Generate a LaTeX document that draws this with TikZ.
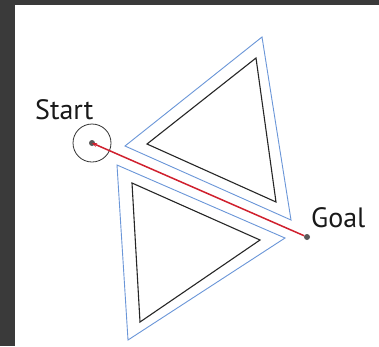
\documentclass[tikz,border=0pt]{standalone}
\usepackage{fontspec}
\setmainfont{PT Sans}
\usetikzlibrary{arrows.meta}
\definecolor{bgdark}{HTML}{3A3A3A}
\definecolor{obsblue}{HTML}{6A96D8}
\definecolor{pathred}{HTML}{D0202E}
\tikzset{
  outline/.style={draw=obsblue, line width=0.9pt, line join=miter},
  inner/.style={draw=black!85, line width=1.1pt, line join=miter},
  lbl/.style={font=\fontsize{28}{28}\selectfont, inner sep=0pt, anchor=base west, text=black!90},
  pt/.style={circle, fill=gray!70!black, inner sep=0pt, minimum size=6pt},
  ring/.style={circle, draw=black!80, line width=0.8pt, minimum size=38pt, inner sep=0pt},
  route/.style={draw=pathred, line width=1.5pt, -{Stealth[length=5pt,width=4pt]}}
}
\begin{document}
\begin{tikzpicture}[x=1pt,y=-1pt]
\useasboundingbox (0,0) rectangle (379,346);
\fill[bgdark] (0,0) rectangle (379,346);
\fill[white] (15,5) rectangle (379,346);
% upper obstacle
\draw[outline] (262,37) -- (125,146) -- (291,220) -- cycle;
\draw[inner] (256,58) -- (147,144) -- (276,202) -- cycle;
% lower obstacle
\draw[outline] (117,165) -- (285,238) -- (128,340) -- cycle;
\draw[inner] (132,183) -- (260,240) -- (140,322) -- cycle;
% start and goal
\node[ring] (ring) at (92,143) {};
\node[pt] (start) at (92,143) {};
\node[pt] (goal) at (307,237) {};
\draw[route] (goal) -- (start.center);
\node[lbl] (startlbl) at (35,119) {Start};
\node[lbl] (goallbl) at (311,227) {Goal};
\end{tikzpicture}
\end{document}
